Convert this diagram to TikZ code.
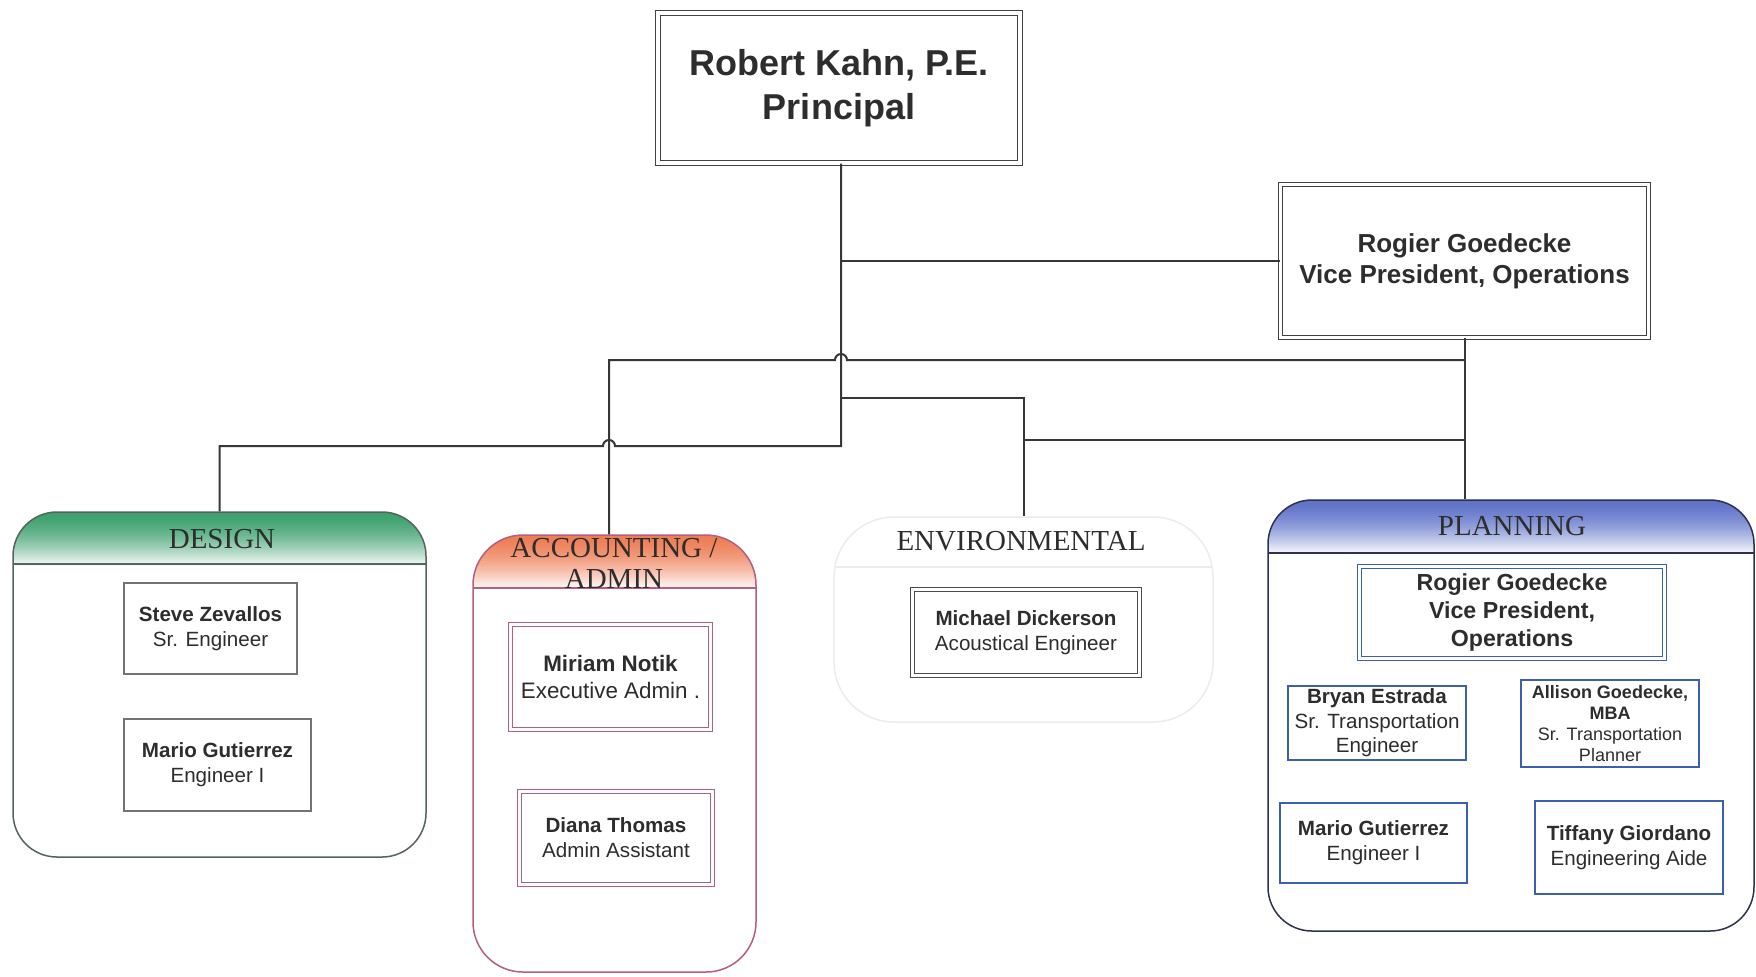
\documentclass[tikz,border=0pt]{standalone}
\usepackage{fontspec}
\setmainfont{Liberation Sans}
\newfontfamily\headserif{Liberation Serif}
\definecolor{txt}{RGB}{45,45,45}
\definecolor{lineclr}{RGB}{55,55,55}
\definecolor{dgreen}{RGB}{60,160,110}
\definecolor{dgreenbd}{RGB}{85,100,95}
\definecolor{dsalmon}{RGB}{238,125,85}
\definecolor{dmauve}{RGB}{180,95,125}
\definecolor{dblue}{RGB}{95,115,200}
\definecolor{dnavy}{RGB}{45,50,80}
\definecolor{pbox}{RGB}{60,95,175}
\definecolor{envbd}{RGB}{236,236,236}
\begin{document}
\begin{tikzpicture}[x=0.5pt,y=-0.5pt,
  conn/.style={draw=lineclr, line width=1pt},
  person/.style={align=center, inner sep=0pt, text=txt, font=\fontsize{10.3}{12.5}\selectfont},
  single/.style={draw=#1, line width=0.6pt},
  dbl/.style={draw=#1, line width=0.6pt, double=white, double distance=1.6pt},
  dept/.style n args={4}{draw=#2, line width=0.75pt, rounded corners=#4, inner sep=0pt,
     path picture={
       \foreach \i in {-3,...,26} {
         \pgfmathtruncatemacro\pct{max(0,min(100,100*(1-(max(0,\i)/27)^1.6)))}
         \fill[sharp corners, #1!\pct!white]
           ([yshift=-\i*1pt]path picture bounding box.north west) rectangle ([yshift=-\i*1pt-1.15pt]path picture bounding box.north east);
       }
       \draw[sharp corners, #2, line width=0.75pt] ([yshift=-#3]path picture bounding box.north west) -- ([yshift=-#3]path picture bounding box.north east);}},
  head/.style={font=\headserif\fontsize{14.5}{15.5}\selectfont, text=txt, align=center, inner sep=0pt}
]
\useasboundingbox[fill=white] (0,0) rectangle (1756,976);

% top level
\node[dbl=black!75, minimum width=181pt, minimum height=75pt, inner sep=0pt, align=center, text=txt,
      font=\bfseries\fontsize{18}{22}\selectfont] (principal) at (839,88) {Robert Kahn, P.E.\\Principal};
\node[dbl=black!75, minimum width=184pt, minimum height=76.5pt, inner sep=0pt, align=center, text=txt,
      font=\bfseries\fontsize{13}{15.5}\selectfont] (vp) at (1464.5,261) {Rogier Goedecke\\Vice President, Operations};

% departments
\node[dept={dgreen}{dgreenbd}{26pt}{22pt}, minimum width=206.5pt, minimum height=172.5pt] (design) at (219.5,684.5) {};
\node[dept={dsalmon}{dmauve}{26.5pt}{25pt}, minimum width=141.5pt, minimum height=218.5pt] (acct) at (614.5,753.5) {};
\node[dept={white}{envbd}{25pt}{30pt}, minimum width=189.5pt, minimum height=102.5pt] (env) at (1023.5,619.5) {};
\node[dept={dblue}{dnavy}{26.5pt}{22pt}, minimum width=243pt, minimum height=215.5pt] (planning) at (1511,715.5) {};

\node[head] (designhead) at (222,539) {DESIGN};
\node[head] (accthead) at (614,563) {ACCOUNTING /\\ADMIN};
\node[head] (envhead) at (1021,541) {ENVIRONMENTAL};
\node[head] (planhead) at (1512,526) {PLANNING};

% design staff
\node[person, single=black!55, minimum width=86.5pt, minimum height=45.5pt] (steve) at (210.5,628.5) {\textbf{Steve Zevallos}\\Sr. Engineer};
\node[person, single=black!55, minimum width=93.5pt, minimum height=46pt] (mariod) at (217.5,765) {\textbf{Mario Gutierrez}\\Engineer I};

% accounting staff
\node[person, dbl=dmauve, minimum width=100pt, minimum height=52.5pt, font=\fontsize{11.2}{13.5}\selectfont] (miriam) at (610.5,677) {\textbf{Miriam Notik}\\Executive Admin .};
\node[person, dbl=dmauve, minimum width=96.5pt, minimum height=46.5pt] (diana) at (616,838) {\textbf{Diana Thomas}\\Admin Assistant};

% environmental staff
\node[person, dbl=black!70, minimum width=113.5pt, minimum height=43pt] (michael) at (1026,632.5) {\textbf{Michael Dickerson}\\Acoustical Engineer};

% planning staff
\node[person, dbl=pbox, minimum width=152.5pt, minimum height=46pt, font=\bfseries\fontsize{11.6}{14}\selectfont] (rogierp) at (1512,612.5) {Rogier Goedecke\\Vice President,\\Operations};
\node[person, single=pbox, minimum width=89pt, minimum height=37pt, font=\fontsize{10.3}{12.3}\selectfont] (bryan) at (1377,723) {\textbf{Bryan Estrada}\\Sr. Transportation\\Engineer};
\node[person, single=pbox, minimum width=89pt, minimum height=43.5pt, font=\fontsize{9}{10.5}\selectfont] (allison) at (1610,723.5) {\textbf{Allison Goedecke,}\\\textbf{MBA}\\Sr. Transportation\\Planner};
\node[person, single=pbox, minimum width=93.5pt, minimum height=40pt] (mariop) at (1373.5,843) {\textbf{Mario Gutierrez}\\Engineer I};
\node[person, single=pbox, minimum width=94pt, minimum height=46.5pt] (tiffany) at (1629,847.5) {\textbf{Tiffany Giordano}\\Engineering Aide};

% junctions
\coordinate (jd) at (841,446);
\coordinate (je) at (841,398);
\coordinate (ja) at (609,360);
\coordinate (jv1) at (1464,360);
\coordinate (jv2) at (1464,440);

% connectors
\draw[conn] (principal.south -| jd) -- (jd) -- (615,446) arc[start angle=0,end angle=180,radius=3pt]
   -- (design.north |- jd) -- (design.north);
\draw[conn] (jd |- vp.west) -- (vp.west);
\draw[conn] (vp.south) -- (vp.south |- planning.north);
\draw[conn] (jv1) -- (847,360) arc[start angle=0,end angle=180,radius=3pt] -- (ja) -- (ja |- acct.north);
\draw[conn] (je) -| (env.north);
\draw[conn] (jv2) -- (env.north |- jv2);
\end{tikzpicture}
\end{document}
